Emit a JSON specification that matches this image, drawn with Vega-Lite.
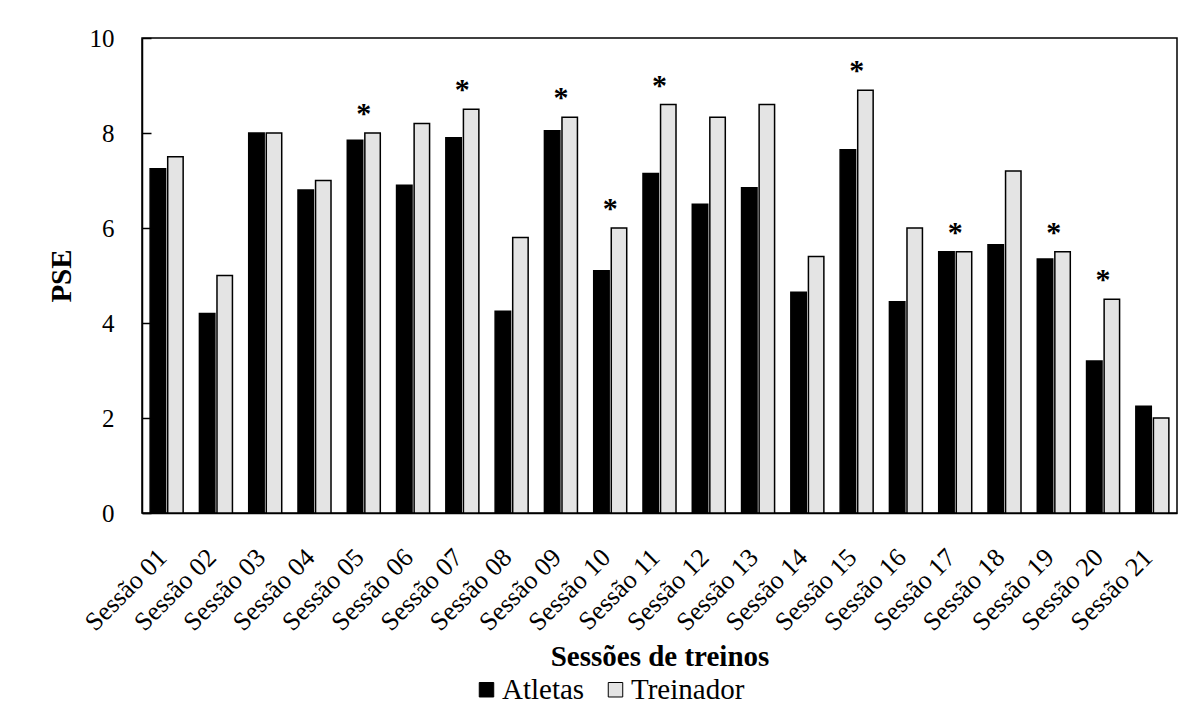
{
  "$schema": "https://vega.github.io/schema/vega-lite/v6.json",
  "width": 1035,
  "height": 475,
  "autosize": {"type": "none"},
  "padding": {"left": 142, "top": 38, "right": 27, "bottom": 203},
  "background": "white",
  "config": {
    "font": "Liberation Serif",
    "view": {"stroke": "black", "strokeWidth": 1.5},
    "axis": {"labelFont": "Liberation Serif", "titleFont": "Liberation Serif", "labelColor": "black", "titleColor": "black", "domainColor": "black", "tickColor": "black", "grid": false},
    "legend": {"labelFont": "Liberation Serif", "labelFontSize": 29, "labelColor": "black"}
  },
  "datasets": {
    "bars": [
      {"sessao": "Sessão 01", "grupo": "Atletas", "pse": 7.25},
      {"sessao": "Sessão 01", "grupo": "Treinador", "pse": 7.5},
      {"sessao": "Sessão 02", "grupo": "Atletas", "pse": 4.2},
      {"sessao": "Sessão 02", "grupo": "Treinador", "pse": 5.0},
      {"sessao": "Sessão 03", "grupo": "Atletas", "pse": 8.0},
      {"sessao": "Sessão 03", "grupo": "Treinador", "pse": 8.0},
      {"sessao": "Sessão 04", "grupo": "Atletas", "pse": 6.8},
      {"sessao": "Sessão 04", "grupo": "Treinador", "pse": 7.0},
      {"sessao": "Sessão 05", "grupo": "Atletas", "pse": 7.85},
      {"sessao": "Sessão 05", "grupo": "Treinador", "pse": 8.0},
      {"sessao": "Sessão 06", "grupo": "Atletas", "pse": 6.9},
      {"sessao": "Sessão 06", "grupo": "Treinador", "pse": 8.2},
      {"sessao": "Sessão 07", "grupo": "Atletas", "pse": 7.9},
      {"sessao": "Sessão 07", "grupo": "Treinador", "pse": 8.5},
      {"sessao": "Sessão 08", "grupo": "Atletas", "pse": 4.25},
      {"sessao": "Sessão 08", "grupo": "Treinador", "pse": 5.8},
      {"sessao": "Sessão 09", "grupo": "Atletas", "pse": 8.05},
      {"sessao": "Sessão 09", "grupo": "Treinador", "pse": 8.33},
      {"sessao": "Sessão 10", "grupo": "Atletas", "pse": 5.1},
      {"sessao": "Sessão 10", "grupo": "Treinador", "pse": 6.0},
      {"sessao": "Sessão 11", "grupo": "Atletas", "pse": 7.15},
      {"sessao": "Sessão 11", "grupo": "Treinador", "pse": 8.6},
      {"sessao": "Sessão 12", "grupo": "Atletas", "pse": 6.5},
      {"sessao": "Sessão 12", "grupo": "Treinador", "pse": 8.33},
      {"sessao": "Sessão 13", "grupo": "Atletas", "pse": 6.85},
      {"sessao": "Sessão 13", "grupo": "Treinador", "pse": 8.6},
      {"sessao": "Sessão 14", "grupo": "Atletas", "pse": 4.65},
      {"sessao": "Sessão 14", "grupo": "Treinador", "pse": 5.4},
      {"sessao": "Sessão 15", "grupo": "Atletas", "pse": 7.65},
      {"sessao": "Sessão 15", "grupo": "Treinador", "pse": 8.9},
      {"sessao": "Sessão 16", "grupo": "Atletas", "pse": 4.45},
      {"sessao": "Sessão 16", "grupo": "Treinador", "pse": 6.0},
      {"sessao": "Sessão 17", "grupo": "Atletas", "pse": 5.5},
      {"sessao": "Sessão 17", "grupo": "Treinador", "pse": 5.5},
      {"sessao": "Sessão 18", "grupo": "Atletas", "pse": 5.65},
      {"sessao": "Sessão 18", "grupo": "Treinador", "pse": 7.2},
      {"sessao": "Sessão 19", "grupo": "Atletas", "pse": 5.35},
      {"sessao": "Sessão 19", "grupo": "Treinador", "pse": 5.5},
      {"sessao": "Sessão 20", "grupo": "Atletas", "pse": 3.2},
      {"sessao": "Sessão 20", "grupo": "Treinador", "pse": 4.5},
      {"sessao": "Sessão 21", "grupo": "Atletas", "pse": 2.25},
      {"sessao": "Sessão 21", "grupo": "Treinador", "pse": 2.0}
    ],
    "stars": [
      {"sessao": "Sessão 05", "pse": 8.0, "marca": "*"},
      {"sessao": "Sessão 07", "pse": 8.5, "marca": "*"},
      {"sessao": "Sessão 09", "pse": 8.33, "marca": "*"},
      {"sessao": "Sessão 10", "pse": 6.0, "marca": "*"},
      {"sessao": "Sessão 11", "pse": 8.6, "marca": "*"},
      {"sessao": "Sessão 15", "pse": 8.9, "marca": "*"},
      {"sessao": "Sessão 17", "pse": 5.5, "marca": "*"},
      {"sessao": "Sessão 19", "pse": 5.5, "marca": "*"},
      {"sessao": "Sessão 20", "pse": 4.5, "marca": "*"}
    ]
  },
  "layer": [
    {
      "data": {"name": "bars"},
      "mark": {"type": "bar", "stroke": "black", "strokeWidth": 1.5},
      "encoding": {
        "x": {
          "field": "sessao", "type": "nominal", "sort": null,
          "scale": {"paddingInner": 0.33, "paddingOuter": 0.165},
          "axis": {
            "title": "Sessões de treinos",
            "titleFontSize": 29, "titleFontWeight": "bold",
            "titleY": 152, "titleBaseline": "alphabetic",
            "labelAngle": -45, "labelAlign": "right", "labelBaseline": "middle",
            "labelFontSize": 26, "labelPadding": 40, "labelOffset": -4,
            "ticks": false, "domainWidth": 1.5
          }
        },
        "xOffset": {"field": "grupo", "type": "nominal", "scale": {"paddingInner": 0.12}},
        "y": {
          "field": "pse", "type": "quantitative",
          "scale": {"domain": [0, 10], "nice": false},
          "axis": {
            "title": "PSE", "titleFontSize": 29, "titleFontWeight": "bold",
            "titleX": -81, "titleBaseline": "middle", "titleAngle": -90,
            "values": [0, 2, 4, 6, 8, 10],
            "labelFontSize": 25, "tickSize": -9, "labelPadding": 37,
            "domainWidth": 1.5, "tickWidth": 1.5
          }
        },
        "fill": {
          "field": "grupo", "type": "nominal",
          "scale": {"domain": ["Atletas", "Treinador"], "range": ["black", "#e4e4e4"]},
          "legend": {
            "title": null, "orient": "none", "direction": "horizontal",
            "legendX": 330, "legendY": 637,
            "symbolType": "square", "symbolSize": 210, "symbolStrokeColor": "black", "symbolStrokeWidth": 1,
            "labelFont": "Liberation Serif", "labelFontSize": 29, "labelColor": "black",
            "labelOffset": 1, "columnPadding": 16
          }
        }
      }
    },
    {
      "data": {"name": "stars"},
      "mark": {"type": "text", "fontSize": 30, "fontWeight": "bold", "baseline": "alphabetic", "dy": -10, "font": "Liberation Serif"},
      "encoding": {
        "x": {"field": "sessao", "type": "nominal", "sort": null},
        "y": {"field": "pse", "type": "quantitative"},
        "text": {"field": "marca"}
      }
    }
  ]
}
